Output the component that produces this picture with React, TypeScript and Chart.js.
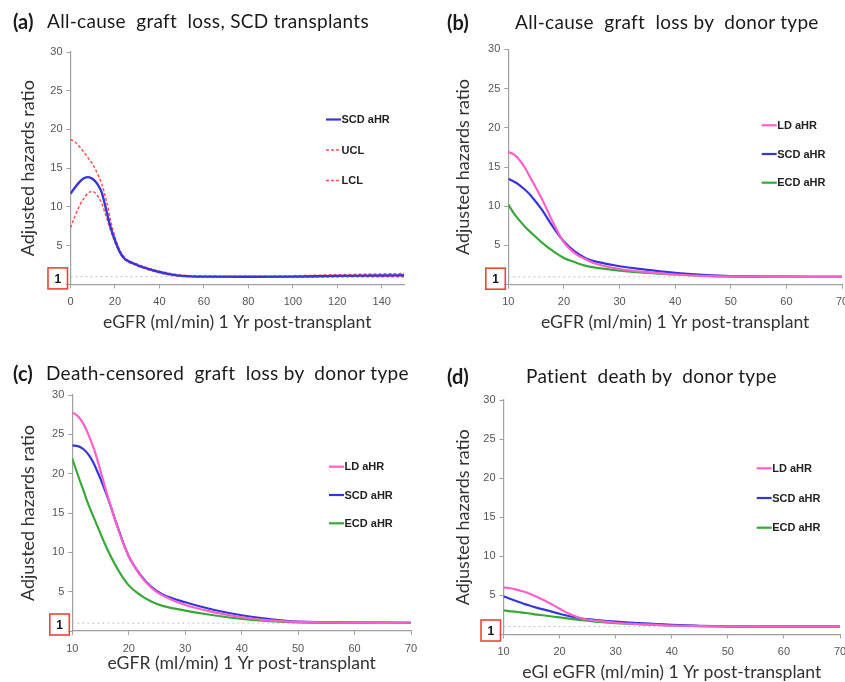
import React, { useEffect, useRef } from 'react';
import { Chart, registerables } from 'chart.js';

Chart.register(...registerables);

// ---------- DATA ----------
const Y_MAX = 30;
const Y_STEP = 5;
const REF_VALUE = 1;
const REF_LABEL = '1';

// Panel (a): All-cause graft loss, SCD transplants
const A_X = [0, 2, 4, 6, 8, 10, 12, 14, 16, 18, 20, 22, 24, 26, 30, 35, 40, 45, 50, 60, 80, 100, 120, 140, 150];
const A_SCD = [11.7, 12.5, 13.2, 13.7, 13.85, 13.6, 13.0, 11.9, 9.7, 7.4, 5.7, 4.3, 3.4, 3.0, 2.5, 2.0, 1.6, 1.3, 1.1, 1.0, 0.98, 1.0, 1.1, 1.15, 1.18];
const A_UCL = [18.7, 18.4, 17.8, 17.1, 16.3, 15.5, 14.4, 13.0, 11.0, 8.3, 6.1, 4.5, 3.6, 3.1, 2.6, 2.1, 1.7, 1.4, 1.2, 1.1, 1.05, 1.1, 1.25, 1.35, 1.4];
const A_LCL = [7.3, 8.8, 10.1, 11.1, 11.8, 12.0, 11.5, 10.5, 8.8, 7.0, 5.4, 4.2, 3.3, 2.9, 2.4, 1.9, 1.5, 1.2, 1.05, 0.95, 0.92, 0.92, 0.97, 1.0, 1.0];
const A_X_MIN = 0;
const A_X_MAX = 150;
const A_X_STEP = 20;

// Panels (b)-(d): by donor type
const D_X = [10, 11, 12, 13, 14, 16, 18, 20, 22, 24, 26, 30, 35, 40, 45, 50, 60, 70];
const D_X_MIN = 10;
const D_X_MAX = 70;
const D_X_STEP = 10;

// (b) All-cause graft loss by donor type
const B_LD = [16.9, 16.6, 15.9, 14.9, 13.6, 11.0, 8.0, 5.4, 4.0, 3.2, 2.6, 2.0, 1.6, 1.3, 1.13, 1.05, 1.0, 1.0];
const B_SCD = [13.5, 13.15, 12.7, 12.1, 11.4, 9.6, 7.4, 5.5, 4.2, 3.35, 2.9, 2.35, 1.9, 1.5, 1.25, 1.1, 1.02, 1.0];
const B_ECD = [10.2, 9.1, 8.2, 7.4, 6.7, 5.4, 4.3, 3.4, 2.85, 2.4, 2.15, 1.8, 1.5, 1.3, 1.15, 1.05, 1.0, 1.0];

// (c) Death-censored graft loss by donor type
const C_LD = [27.8, 27.3, 26.3, 24.7, 22.8, 17.8, 13.2, 9.5, 7.1, 5.5, 4.5, 3.3, 2.4, 1.75, 1.35, 1.15, 1.05, 1.05];
const C_SCD = [23.6, 23.5, 23.1, 22.3, 21.0, 17.5, 13.3, 9.5, 7.2, 5.6, 4.65, 3.65, 2.7, 2.0, 1.5, 1.2, 1.08, 1.05];
const C_ECD = [21.9, 19.8, 17.8, 15.8, 14.1, 10.7, 7.9, 5.8, 4.6, 3.75, 3.2, 2.6, 2.0, 1.55, 1.25, 1.1, 1.05, 1.05];

// (d) Patient death by donor type
const DD_LD = [6.0, 5.95, 5.8, 5.6, 5.4, 4.8, 4.1, 3.3, 2.55, 2.05, 1.8, 1.5, 1.3, 1.15, 1.08, 1.03, 1.0, 1.0];
const DD_SCD = [4.9, 4.6, 4.35, 4.1, 3.85, 3.4, 3.05, 2.65, 2.3, 2.05, 1.9, 1.65, 1.42, 1.25, 1.12, 1.05, 1.0, 1.0];
const DD_ECD = [3.1, 3.0, 2.92, 2.83, 2.75, 2.55, 2.37, 2.18, 2.0, 1.82, 1.68, 1.45, 1.28, 1.15, 1.08, 1.03, 1.0, 1.0];

// ---------- TEXT ----------
const Y_TITLE = 'Adjusted hazards ratio';
const X_TITLE = 'eGFR (ml/min) 1 Yr post-transplant';
const X_TITLE_D = 'eGl eGFR (ml/min) 1 Yr post-transplant';

// ---------- STYLE ----------
const BLUE = '#3636d8';
const PINK = '#ff5fcc';
const GREEN = '#38a838';
const RED = '#ff5050';
const AXIS_COLOR = '#a0a0a0';
const TICK_COLOR = '#555555';
const TITLE_FONT = 'Lato, "Open Sans", sans-serif';
const TICK_FONT = '"Liberation Sans", Arial, sans-serif';
const Y_TITLE_SIZE = 18;
const X_TITLE_SIZE = 17.6;

type Series = { label: string; data: number[]; color: string; dash?: number[]; width?: number };
type PanelCfg = {
  left: number; top: number; w: number; h: number;
  area: { left: number; top: number; right: number; bottom: number };
  yTitleX: number; xTitleY: number;
  xs: number[]; xMin: number; xMax: number; xStep: number;
  xTitle: string;
  tension: number;
  series: Series[];
  legend: { x: number; y: number; gap: number };
  boxOffset: number;
};

const PANELS: PanelCfg[] = [
  {
    left: 0, top: 0, w: 422, h: 340,
    area: { left: 70.5, top: 52, right: 404, bottom: 284.4 },
    yTitleX: 28, xTitleY: 322,
    xs: A_X, xMin: A_X_MIN, xMax: A_X_MAX, xStep: A_X_STEP, xTitle: X_TITLE,
    tension: 0,
    series: [
      { label: 'SCD aHR', data: A_SCD, color: BLUE, width: 2.4 },
      { label: 'UCL', data: A_UCL, color: RED, dash: [3, 2], width: 1.5 },
      { label: 'LCL', data: A_LCL, color: RED, dash: [3, 2], width: 1.5 },
    ],
    legend: { x: 326, y: 119.5, gap: 30.5 },
    boxOffset: 6,
  },
  {
    left: 422, top: 0, w: 423, h: 340,
    area: { left: 86.3, top: 49.3, right: 420, bottom: 284.7 },
    yTitleX: 41, xTitleY: 322,
    xs: D_X, xMin: D_X_MIN, xMax: D_X_MAX, xStep: D_X_STEP, xTitle: X_TITLE,
    tension: 0.4,
    series: [
      { label: 'LD aHR', data: B_LD, color: PINK },
      { label: 'SCD aHR', data: B_SCD, color: BLUE },
      { label: 'ECD aHR', data: B_ECD, color: GREEN },
    ],
    legend: { x: 339.7, y: 125.3, gap: 28.7 },
    boxOffset: 6,
  },
  {
    left: 0, top: 340, w: 422, h: 342,
    area: { left: 72.3, top: 55, right: 411, bottom: 291 },
    yTitleX: 28, xTitleY: 323,
    xs: D_X, xMin: D_X_MIN, xMax: D_X_MAX, xStep: D_X_STEP, xTitle: X_TITLE,
    tension: 0.4,
    series: [
      { label: 'LD aHR', data: C_LD, color: PINK },
      { label: 'SCD aHR', data: C_SCD, color: BLUE },
      { label: 'ECD aHR', data: C_ECD, color: GREEN },
    ],
    legend: { x: 329, y: 126.7, gap: 28.3 },
    boxOffset: 6.5,
  },
  {
    left: 422, top: 340, w: 423, h: 342,
    area: { left: 81.5, top: 60, right: 418, bottom: 294.5 },
    yTitleX: 41, xTitleY: 332,
    xs: D_X, xMin: D_X_MIN, xMax: D_X_MAX, xStep: D_X_STEP, xTitle: X_TITLE_D,
    tension: 0.4,
    series: [
      { label: 'LD aHR', data: DD_LD, color: PINK },
      { label: 'SCD aHR', data: DD_SCD, color: BLUE },
      { label: 'ECD aHR', data: DD_ECD, color: GREEN },
    ],
    legend: { x: 334.7, y: 128.3, gap: 29.7 },
    boxOffset: 4,
  },
];

const TITLES = [
  { tag: '(a)', tagX: 13, text: 'All-cause  graft  loss, SCD transplants', textX: 47, cy: 20.5 },
  { tag: '(b)', tagX: 447, text: 'All-cause  graft  loss by  donor type', textX: 515, cy: 21.5 },
  { tag: '(c)', tagX: 13, text: 'Death-censored  graft  loss by  donor type', textX: 46, cy: 373 },
  { tag: '(d)', tagX: 447, text: 'Patient  death by  donor type', textX: 526, cy: 376 },
];

function Panel({ cfg }: { cfg: PanelCfg }) {
  const ref = useRef<HTMLCanvasElement>(null);
  useEffect(() => {
    const c = cfg;
    const ylh = Y_TITLE_SIZE * 1.2;
    const xlh = X_TITLE_SIZE * 1.2;
    const padLeft = c.yTitleX - ylh / 2;
    const yWidth = c.area.left - padLeft;
    const xBottom = c.xTitleY + xlh / 2;
    const xHeight = xBottom - c.area.bottom;

    const datasets: any[] = c.series.map((s) => ({
      label: s.label,
      data: c.xs.map((x, i) => ({ x, y: s.data[i] })),
      borderColor: s.color,
      borderWidth: s.width ?? 2.2,
      borderDash: s.dash ?? [],
      pointRadius: 0,
      cubicInterpolationMode: c.tension ? 'default' : 'monotone',
      tension: c.tension,
      fill: false,
    }));
    datasets.push({
      label: 'ref',
      data: [
        { x: c.xMin, y: REF_VALUE },
        { x: c.xMax, y: REF_VALUE },
      ],
      borderColor: '#c0c0c0',
      borderWidth: 1,
      borderDash: [2, 3],
      pointRadius: 0,
      fill: false,
    });

    const decor = {
      id: 'decor',
      afterDraw(chart: any) {
        const ctx = chart.ctx;
        const a = chart.chartArea;
        ctx.save();
        // boxed reference label
        const bw = 19.5;
        const bh = 21;
        const bx = a.left - 22.5;
        const cy = a.bottom - c.boxOffset;
        ctx.strokeStyle = '#e8453f';
        ctx.lineWidth = 1.6;
        ctx.strokeRect(bx, cy - bh / 2, bw, bh);
        ctx.fillStyle = '#111';
        ctx.font = 'bold 12px ' + TICK_FONT;
        ctx.textAlign = 'center';
        ctx.textBaseline = 'middle';
        ctx.fillText(REF_LABEL, bx + bw / 2, cy + 1);
        // legend
        c.series.forEach((s, i) => {
          const y = c.legend.y + i * c.legend.gap;
          ctx.beginPath();
          ctx.setLineDash(s.dash ?? []);
          ctx.strokeStyle = s.color;
          ctx.lineWidth = s.dash ? 1.5 : 2.2;
          ctx.moveTo(c.legend.x, y);
          ctx.lineTo(c.legend.x + 15, y);
          ctx.stroke();
          ctx.setLineDash([]);
          ctx.fillStyle = '#222';
          ctx.font = 'bold 11px ' + TICK_FONT;
          ctx.textAlign = 'left';
          ctx.textBaseline = 'middle';
          ctx.fillText(s.label, c.legend.x + 15.5, y + 0.5);
        });
        ctx.restore();
      },
    };

    const chart = new Chart(ref.current as HTMLCanvasElement, {
      type: 'line',
      data: { datasets },
      options: {
        animation: false,
        responsive: false,
        maintainAspectRatio: false,
        layout: {
          padding: {
            left: padLeft,
            top: c.area.top,
            right: c.w - c.area.right,
            bottom: c.h - xBottom,
          },
        },
        plugins: {
          legend: { display: false },
          tooltip: { enabled: false },
          title: { display: false },
        },
        scales: {
          x: {
            type: 'linear',
            min: c.xMin,
            max: c.xMax,
            ticks: {
              stepSize: c.xStep,
              includeBounds: false,
              autoSkip: false,
              maxRotation: 0,
              padding: 7,
              color: TICK_COLOR,
              font: { family: TICK_FONT, size: 11 },
            },
            grid: { display: true, drawOnChartArea: false, drawTicks: true, tickLength: 4, color: AXIS_COLOR },
            border: { display: true, color: AXIS_COLOR, width: 1.2 },
            title: {
              display: true,
              text: c.xTitle,
              color: '#333',
              padding: 0,
              font: { family: TITLE_FONT, size: X_TITLE_SIZE },
            },
            afterFit: (s: any) => {
              s.height = xHeight;
              s.paddingLeft = 0;
              s.paddingRight = 0;
            },
          },
          y: {
            type: 'linear',
            min: 0,
            max: Y_MAX,
            ticks: {
              stepSize: Y_STEP,
              padding: 4,
              color: TICK_COLOR,
              font: { family: TICK_FONT, size: 11 },
              callback: (v: any) => (Number(v) === 0 ? '' : String(v)),
            },
            grid: { display: true, drawOnChartArea: false, drawTicks: true, tickLength: 4, color: AXIS_COLOR },
            border: { display: true, color: AXIS_COLOR, width: 1.2 },
            title: {
              display: true,
              text: Y_TITLE,
              color: '#333',
              padding: 0,
              font: { family: TITLE_FONT, size: Y_TITLE_SIZE },
            },
            afterFit: (s: any) => {
              s.width = yWidth;
              s.paddingTop = 0;
              s.paddingBottom = 0;
            },
          },
        },
      } as any,
      plugins: [decor],
    });
    return () => chart.destroy();
  }, [cfg]);

  return (
    <canvas
      ref={ref}
      width={cfg.w}
      height={cfg.h}
      style={{ position: 'absolute', left: cfg.left, top: cfg.top, width: cfg.w, height: cfg.h }}
    />
  );
}

export default function App() {
  return (
    <div
      style={{
        position: 'absolute',
        left: 0,
        top: 0,
        width: 845,
        height: 682,
        background: '#fff',
        overflow: 'hidden',
      }}
    >
      {PANELS.map((p, i) => (
        <Panel key={i} cfg={p} />
      ))}
      {TITLES.map((t, i) => (
        <React.Fragment key={'t' + i}>
          <div
            style={{
              position: 'absolute',
              left: t.tagX,
              top: t.cy - 12,
              height: 24,
              lineHeight: '24px',
              fontFamily: TITLE_FONT,
              fontWeight: 700,
              fontSize: 20,
              color: '#1a1a1a',
              whiteSpace: 'pre',
            }}
          >
            {t.tag}
          </div>
          <div
            style={{
              position: 'absolute',
              left: t.textX,
              top: t.cy - 12,
              height: 24,
              lineHeight: '24px',
              fontFamily: TITLE_FONT,
              fontSize: 19,
              letterSpacing: 0.3,
              color: '#1a1a1a',
              whiteSpace: 'pre',
            }}
          >
            {t.text}
          </div>
        </React.Fragment>
      ))}
    </div>
  );
}
